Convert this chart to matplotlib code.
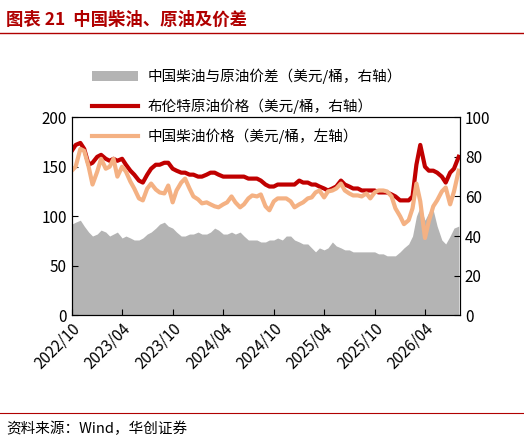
import matplotlib
matplotlib.use("Agg")
import matplotlib.pyplot as plt
import matplotlib.dates as mdates
import pandas as pd

plt.rcParams['font.family'] = ['Noto Sans CJK SC', 'DejaVu Sans']

dates = pd.date_range("2022-10-01", periods=93, freq="SMS")

# 布伦特原油价格 (right axis)
brent = [83, 86, 87, 84, 76, 77, 80, 81, 79, 78, 79, 78, 79, 76, 73, 71,
         68, 67, 71, 74, 76, 76, 77, 77, 74, 73, 72, 72, 71, 71, 70, 70,
         71, 72, 72, 71, 70, 70, 70, 70, 70, 70, 69, 69, 69, 68, 66, 65,
         65, 66, 66, 66, 66, 66, 68, 67, 67, 66, 66, 65, 64, 63, 64, 65,
         68, 66, 65, 64, 64, 63, 63, 63, 63, 62, 62, 62, 61, 60, 58, 58,
         58, 60, 76, 86, 75, 73, 73, 72, 70, 67, 72, 74, 80]

# 中国柴油价格 (left axis)
diesel = [146, 150, 168, 166, 150, 132, 145, 158, 148, 150, 158, 140, 150, 145, 135, 128,
          118, 116, 128, 133, 127, 124, 123, 131, 114, 126, 134, 138, 128, 120, 117, 113,
          114, 112, 110, 109, 112, 114, 120, 114, 109, 112, 118, 121, 120, 122, 110, 106,
          115, 118, 118, 118, 115, 109, 112, 114, 118, 119, 124, 126, 119, 125, 126, 128,
          133, 126, 123, 121, 121, 120, 123, 118, 124, 126, 126, 125, 120, 108, 100, 92,
          96, 108, 133, 115, 78, 95, 110, 116, 125, 129, 112, 125, 146]

# 中国柴油与原油价差 (right axis)
spread = [46, 47, 48, 45, 42, 40, 41, 43, 42, 40, 41, 42, 39, 40, 39, 38,
          38, 39, 41, 42, 44, 46, 47, 45, 44, 42, 40, 40, 41, 41, 42, 41,
          41, 42, 44, 43, 41, 41, 42, 41, 42, 40, 38, 38, 38, 37, 37, 38,
          38, 39, 38, 40, 40, 38, 37, 36, 36, 34, 32, 34, 33, 34, 37, 35,
          34, 33, 33, 32, 32, 32, 32, 32, 32, 31, 31, 30, 30, 30, 32, 34,
          36, 40, 50, 55, 48, 52, 53, 45, 38, 36, 40, 44, 45]

fig = plt.figure(figsize=(5.24, 4.44), dpi=100)
ax = fig.add_axes([0.137, 0.29, 0.741, 0.446])
ax2 = ax.twinx()

area = ax2.fill_between(dates, spread, color='#B4B4B4', lw=0, label='中国柴油与原油价差（美元/桶，右轴）')
lred, = ax2.plot(dates, brent, color='#C00000', lw=3.0, label='布伦特原油价格（美元/桶，右轴）')
lor, = ax.plot(dates, diesel, color='#F4B183', lw=3.0, label='中国柴油价格（美元/桶，左轴）')
ax.set_zorder(ax2.get_zorder() + 1)
ax.patch.set_visible(False)

ax.set_ylim(0, 200)
ax2.set_ylim(0, 100)
ax.set_yticks(range(0, 201, 50))
ax2.set_yticks(range(0, 101, 20))
ax.set_xlim(pd.Timestamp("2022-10-01"), pd.Timestamp("2026-08-06"))
ax.xaxis.set_major_locator(mdates.MonthLocator(bymonth=[4, 10]))
ax.xaxis.set_major_formatter(mdates.DateFormatter("%Y/%m"))
for lab in ax.get_xticklabels():
    lab.set_rotation(45)
    lab.set_ha('right')
    lab.set_rotation_mode('anchor')
ax.tick_params(direction='in', labelsize=11, length=4)
ax2.tick_params(direction='in', labelsize=11, length=4)

fig.legend(handles=[area, lred, lor], loc='upper left', bbox_to_anchor=(0.15, 0.875),
           frameon=False, fontsize=10.5, handlelength=3.2, labelspacing=1.0,
           handletextpad=0.6)

fig.text(0.012, 0.955, "图表 21  中国柴油、原油及价差", color='#B00000',
         fontsize=12.5, fontweight='bold', va='center')
fig.add_artist(plt.Line2D([0.0, 1.0], [0.925, 0.925], color='#B00000', lw=1))
fig.add_artist(plt.Line2D([0.0, 1.0], [0.07, 0.07], color='#B00000', lw=0.8))
fig.text(0.012, 0.035, "资料来源：Wind，华创证券", fontsize=10.5, style='italic',
         va='center')

fig.savefig("out.png", dpi=100)
